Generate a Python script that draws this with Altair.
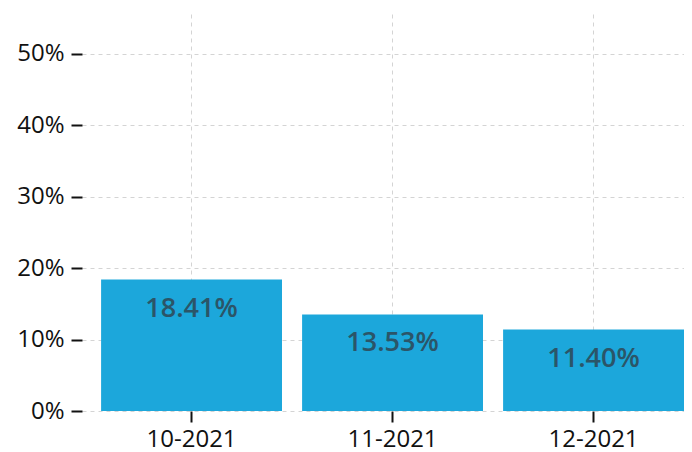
import altair as alt
import pandas as pd

months = ["10-2021", "11-2021", "12-2021"]
rates = [0.1841, 0.1353, 0.1140]
labels = ["18.41%", "13.53%", "11.40%"]

df = pd.DataFrame({"month": months, "rate": rates, "label": labels})

base = alt.Chart(df).encode(
    x=alt.X("month:N", sort=months, title=None,
            scale=alt.Scale(paddingInner=0.1, paddingOuter=0.0475, align=1),
            axis=alt.Axis(labelAngle=0, labelFontSize=24, labelColor="#111111",
                          tickSize=11, tickColor="#111111", tickWidth=2,
                          domain=False, grid=True, gridDash=[4, 4], gridColor="#d4d4d4",
                          labelPadding=5, labelFont="Open Sans")),
    y=alt.Y("rate:Q", title=None,
            scale=alt.Scale(domain=[0, 0.556], nice=False, zero=True),
            axis=alt.Axis(values=[0, 0.1, 0.2, 0.3, 0.4, 0.5], format=".0%",
                          labelFontSize=24, labelColor="#111111",
                          tickSize=11, tickColor="#111111", tickWidth=2,
                          domain=False, grid=True, gridDash=[4, 4], gridColor="#d4d4d4",
                          labelPadding=7, labelFont="Open Sans")),
)

bars = base.mark_bar(color="#1ca7db")
text = base.mark_text(dy=29, fontSize=27, fontWeight=600, color="#2b5568",
                      font="Open Sans", baseline="middle").encode(text="label:N")

chart = (bars + text).properties(
    width=602, height=397,
    padding={"left": 74, "top": 6, "right": 0, "bottom": 40},
    autosize=alt.AutoSizeParams(type="none"),
).configure_view(stroke=None)

chart.save("out.html", embed_options={"renderer": "svg", "actions": False})
